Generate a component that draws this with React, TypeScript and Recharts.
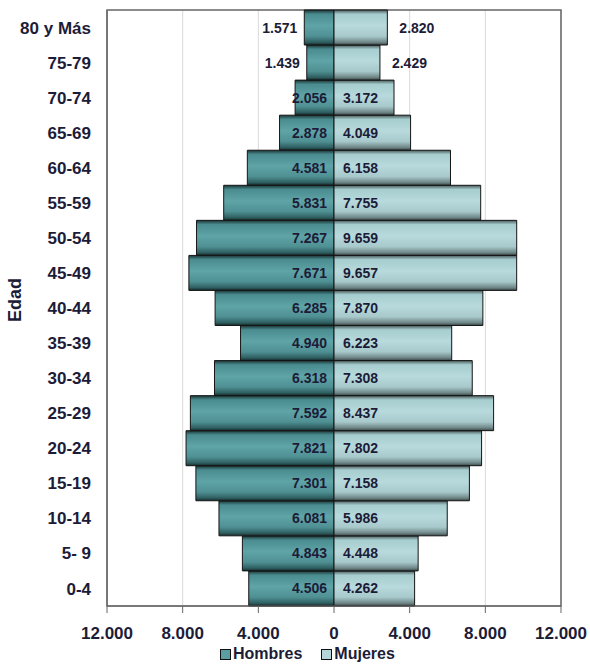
import React from 'react';
import { BarChart, Bar, XAxis, YAxis, CartesianGrid, Legend, LabelList, ReferenceArea } from 'recharts';

const AGES = ['0-4', '5- 9', '10-14', '15-19', '20-24', '25-29', '30-34', '35-39', '40-44', '45-49', '50-54', '55-59', '60-64', '65-69', '70-74', '75-79', '80 y Más'];
const HOMBRES = [4506, 4843, 6081, 7301, 7821, 7592, 6318, 4940, 6285, 7671, 7267, 5831, 4581, 2878, 2056, 1439, 1571];
const MUJERES = [4262, 4448, 5986, 7158, 7802, 8437, 7308, 6223, 7870, 9657, 9659, 7755, 6158, 4049, 3172, 2429, 2820];
const X_TICKS = [-12000, -8000, -4000, 0, 4000, 8000, 12000];

const data = AGES.map((age, i) => ({ age, hombres: -HOMBRES[i], mujeres: MUJERES[i] }));

const FONT = 'Arial, "Liberation Sans", sans-serif';
const TEXT = '#1c1c38';
const LABEL_MIN = 38; // bar width needed to fit a value label inside

const fmt = (v: number) => String(Math.abs(v)).replace(/\B(?=(\d{3})+(?!\d))/g, '.');

const labelStyle = { fontFamily: FONT, fontSize: 14, fontWeight: 700, fill: TEXT };

const HombresLabel = (props: any) => {
  const { x, y, width, height, index } = props;
  const left = Math.min(x, x + width);
  const right = Math.max(x, x + width);
  const inside = right - left >= LABEL_MIN;
  return (
    <text x={inside ? right - 7 : left - 7} y={y + height / 2} textAnchor="end" dominantBaseline="central" {...labelStyle}>
      {fmt(HOMBRES[index])}
    </text>
  );
};

const MujeresLabel = (props: any) => {
  const { x, y, width, height, index } = props;
  const left = Math.min(x, x + width);
  const right = Math.max(x, x + width);
  const pxPerUnit = (right - left) / MUJERES[index];
  const inside = HOMBRES[index] * pxPerUnit >= LABEL_MIN;
  return (
    <text x={inside ? left + 9 : right + 12} y={y + height / 2} textAnchor="start" dominantBaseline="central" {...labelStyle}>
      {fmt(MUJERES[index])}
    </text>
  );
};

const LEGEND = [
  { name: 'Hombres', color: '#5a9ea1' },
  { name: 'Mujeres', color: '#b5d7d9' },
];

const renderLegend = () => (
  <div style={{ display: 'flex', alignItems: 'center', height: 20, lineHeight: '20px', paddingLeft: 220, fontFamily: FONT, fontSize: 16, fontWeight: 700, color: TEXT }}>
    {LEGEND.map((it) => (
      <div key={it.name} style={{ display: 'flex', alignItems: 'center', marginRight: 19 }}>
        <span style={{ width: 9, height: 9, border: '1px solid #111', background: it.color, marginRight: 2 }} />
        <span>{it.name}</span>
      </div>
    ))}
  </div>
);

export default function App() {
  return (
    <div style={{ position: 'absolute', left: 0, top: 0, background: '#fff' }}>
      <BarChart
        width={590}
        height={664}
        data={data}
        layout="vertical"
        stackOffset="sign"
        barCategoryGap={0}
        margin={{ top: 10, right: 29, left: 0, bottom: 0 }}
      >
        <defs>
          <linearGradient id="gH" x1="0" y1="0" x2="0" y2="1">
            <stop offset="0%" stopColor="#1b3536" />
            <stop offset="12%" stopColor="#4a8c8f" />
            <stop offset="45%" stopColor="#5fa4a7" />
            <stop offset="75%" stopColor="#4f9093" />
            <stop offset="92%" stopColor="#2f5f61" />
            <stop offset="100%" stopColor="#162a2b" />
          </linearGradient>
          <linearGradient id="gM" x1="0" y1="0" x2="0" y2="1">
            <stop offset="0%" stopColor="#4a5a5b" />
            <stop offset="12%" stopColor="#a6cdcf" />
            <stop offset="45%" stopColor="#b8dadc" />
            <stop offset="75%" stopColor="#a8c9cb" />
            <stop offset="92%" stopColor="#6f8687" />
            <stop offset="100%" stopColor="#3a4748" />
          </linearGradient>
        </defs>
        <CartesianGrid horizontal={false} stroke="#d9d9d9" />
        <XAxis
          type="number"
          domain={[-12000, 12000]}
          ticks={X_TICKS}
          tickFormatter={fmt}
          axisLine={{ stroke: '#666' }}
          tickLine={{ stroke: '#666' }}
          tickSize={7}
          tickMargin={14}
          height={38}
          tick={{ fontFamily: FONT, fontSize: 17, fontWeight: 700, fill: TEXT }}
        />
        <YAxis
          type="category"
          dataKey="age"
          reversed
          width={107}
          tickLine={false}
          tickMargin={10}
          axisLine={{ stroke: '#666' }}
          interval={0}
          tick={{ fontFamily: FONT, fontSize: 17, fontWeight: 700, fill: TEXT }}
          label={{
            content: () => (
              <text x={15} y={300} transform="rotate(-90 15 300)" textAnchor="middle" dominantBaseline="central" fontFamily={FONT} fontSize={18} fontWeight={700} fill={TEXT}>
                Edad
              </text>
            ),
          }}
        />
        <Legend verticalAlign="bottom" content={renderLegend} wrapperStyle={{ left: 0, width: 590 }} />
        <Bar dataKey="hombres" name="Hombres" stackId="a" fill="url(#gH)" stroke="#151515" strokeWidth={1} isAnimationActive={false}>
          <LabelList dataKey="hombres" content={HombresLabel} />
        </Bar>
        <Bar dataKey="mujeres" name="Mujeres" stackId="a" fill="url(#gM)" stroke="#151515" strokeWidth={1} isAnimationActive={false}>
          <LabelList dataKey="mujeres" content={MujeresLabel} />
        </Bar>
        <ReferenceArea x1={-12000} x2={12000} fill="none" fillOpacity={0} stroke="#666" strokeWidth={1.5} />
      </BarChart>
    </div>
  );
}
